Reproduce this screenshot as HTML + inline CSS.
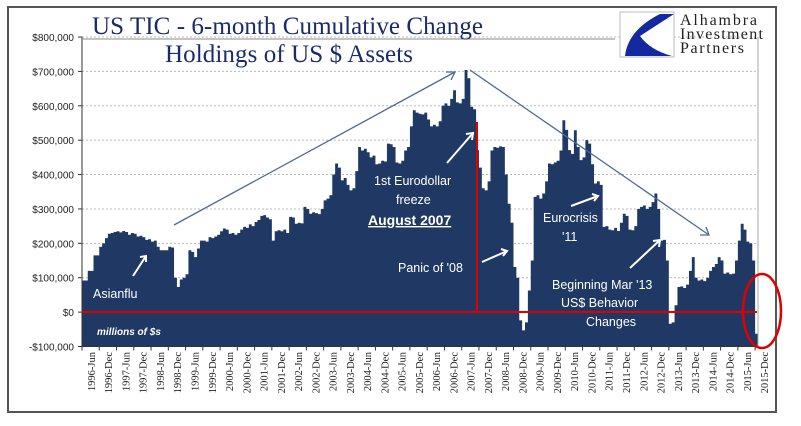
<!DOCTYPE html>
<html><head><meta charset="utf-8"><style>
body{margin:0;background:#fff;}
svg{display:block;}
</style></head><body>
<svg id="chart" width="801" height="426" viewBox="0 0 801 426" xmlns="http://www.w3.org/2000/svg">
<rect x="8" y="7" width="768" height="405" fill="#fff" stroke="#555" stroke-width="2"/>
<g id="grid"></g>
<g id="bars"></g>
<g id="yaxis"></g>
<g id="xaxis"></g>
<line x1="82" y1="39" x2="615" y2="39" stroke="#888" stroke-width="1"/>
<text x="92" y="34" font-family="Liberation Serif, serif" font-size="25" fill="#1a2a6c" textLength="391">US TIC - 6-month Cumulative Change</text>
<text x="165" y="62" font-family="Liberation Serif, serif" font-size="25" fill="#1a2a6c" textLength="248">Holdings of US $ Assets</text>
<g>
<rect x="620" y="12" width="54" height="45" fill="#fff" stroke="#bbb"/>
<path d="M660 14 L674 14 L640 36 Q650 50 672 56 L625 56 Q628 30 660 14Z" fill="#1428a0"/>
<text x="680" y="25" font-family="Liberation Serif, serif" font-size="16" fill="#222" textLength="77">Alhambra</text>
<text x="680" y="39" font-family="Liberation Serif, serif" font-size="16" fill="#222" textLength="83">Investment</text>
<text x="680" y="53" font-family="Liberation Serif, serif" font-size="16" fill="#222" textLength="64">Partners</text>
</g>
<g id="overlay"></g>
</svg>
<script>
const values = [92,92,120,120,165,165,190,200,215,228,230,233,235,232,236,233,225,230,228,220,222,218,210,212,205,208,190,180,180,180,190,188,100,73,95,100,110,180,175,160,185,208,208,205,218,215,220,225,235,243,240,228,230,225,230,240,248,245,255,250,262,268,280,282,275,270,208,235,238,235,240,230,277,275,257,260,258,306,300,286,290,288,285,300,325,330,340,400,432,420,383,390,370,354,360,410,480,470,475,465,450,455,430,432,440,438,490,488,480,435,432,440,470,480,540,587,580,577,575,580,560,540,545,540,555,600,607,600,620,645,610,607,620,704,680,597,590,471,420,360,354,380,470,480,478,482,480,400,315,260,131,100,-24,-53,-30,63,150,335,340,330,345,380,432,430,435,440,470,558,530,471,460,529,480,442,450,500,490,430,374,380,370,248,250,240,238,245,236,260,286,280,240,238,250,300,306,310,300,306,320,345,300,208,210,150,-34,-30,20,73,75,70,80,120,160,100,92,95,90,100,120,131,140,160,150,112,115,110,112,150,208,257,240,205,200,150,-63];
const yTicks = [800,700,600,500,400,300,200,100,0,-100];
const xYears = [1996,1997,1998,1999,2000,2001,2002,2003,2004,2005,2006,2007,2008,2009,2010,2011,2012,2013,2014,2015];
const NS='http://www.w3.org/2000/svg';
const X0=82,X1=758,YTOP=37,YMIN=-100,YMAX=800,YB=346.5;
const y=v=>YB-(v-YMIN)/(YMAX-YMIN)*(YB-YTOP);
const bw=(X1-X0)/values.length;
const x=i=>X0+i*bw;
function mk(tag,attrs,parent){const e=document.createElementNS(NS,tag);for(const k in attrs)e.setAttribute(k,attrs[k]);parent.appendChild(e);return e;}
const grid=document.getElementById('grid'),bars=document.getElementById('bars'),ya=document.getElementById('yaxis'),xa=document.getElementById('xaxis');
yTicks.forEach(t=>{
  if(t>YMIN){const g=mk('line',{x1:X0,x2:X1,y1:y(t),y2:y(t),stroke:'#bbb','stroke-dasharray':'2,2'},grid);
  
  }
  const s=(t<0?'-':'')+'$'+Math.abs(t*1000).toLocaleString('en-US');
  const tx=mk('text',{x:74,y:y(t)+4,'text-anchor':'end','font-family':'Liberation Sans, sans-serif','font-size':'10',fill:'#222'},ya);
  tx.textContent=s;
  
  
  mk('line',{x1:X0-4,x2:X0,y1:y(t),y2:y(t),stroke:'#333'},ya);
});
let d='M'+X0+' '+YB;
values.forEach((v,i)=>{d+=' L'+x(i).toFixed(2)+' '+y(v).toFixed(2)+' L'+x(i+1).toFixed(2)+' '+y(v).toFixed(2);});
d+=' L'+X1+' '+YB+' Z';
const area=mk('path',{d:d,fill:'#1f3864'},bars);


mk('line',{x1:X0,x2:X0,y1:YTOP,y2:YB,stroke:'#333'},ya);
mk('line',{x1:X1,x2:X1,y1:YTOP,y2:YB,stroke:'#aaa'},ya);
mk('line',{x1:X0,x2:X1,y1:YB,y2:YB,stroke:'#333'},xa);
const labels=[];xYears.forEach(yr=>{labels.push(yr+'-Jun');labels.push(yr+'-Dec');});
labels.forEach((l,k)=>{
  const tx0=x(k*6);
  mk('line',{x1:tx0,x2:tx0,y1:YB,y2:YB+4,stroke:'#333'},xa);
  const cx=tx0+bw*4.5, cy=352;
  const t=mk('text',{x:cx,y:cy,transform:'rotate(-90 '+cx+' '+cy+')','text-anchor':'end','font-family':'Liberation Serif, serif','font-size':'10.5',fill:'#222'},xa);
  t.textContent=l;
  
  
});
</script>
<script>
(function(){
const ov=document.getElementById('overlay');
ov.innerHTML=`
<line x1="82" y1="312" x2="757" y2="312" stroke="#e00000" stroke-width="2"/>
<line x1="477" y1="122" x2="477" y2="312" stroke="#e00000" stroke-width="2"/>
<ellipse cx="762" cy="311" rx="19" ry="37" fill="none" stroke="#e00000" stroke-width="2.5"/>
<g stroke="#4a6a96" stroke-width="1.3" fill="none">
<line x1="174" y1="225" x2="455" y2="72"/><polyline points="446,72 455,72 451,80"/>
<line x1="470" y1="70" x2="709" y2="235"/><polyline points="700,235 709,235 706,227"/>
</g>
<g stroke="#fff" stroke-width="2" fill="none">
<line x1="133" y1="276" x2="146" y2="256"/><polyline points="140,257 146,256 146,262"/>
<line x1="447" y1="163" x2="473" y2="133"/><polyline points="466,134 473,133 472,140"/>
<line x1="482" y1="262" x2="507" y2="251"/><polyline points="501,249 507,251 503,256"/>
<line x1="571" y1="206" x2="598" y2="196"/><polyline points="592,194 598,196 594,201"/>
<line x1="630" y1="268" x2="660" y2="240"/><polyline points="653,241 660,240 659,247"/>
</g>
<g font-family="Liberation Sans, sans-serif" fill="#fff" font-size="12.5">
<text x="93" y="298">Asianflu</text>
<text x="374" y="185">1st Eurodollar</text>
<text x="396" y="204">freeze</text>
<text x="368" y="225" font-weight="bold" font-size="14" text-decoration="underline">August 2007</text>
<text x="398" y="272">Panic of '08</text>
<text x="543" y="222">Eurocrisis</text>
<text x="562" y="241">'11</text>
<text x="552" y="289">Beginning Mar '13</text>
<text x="561" y="307">US$ Behavior</text>
<text x="586" y="326">Changes</text>
<text x="97" y="335" font-style="italic" font-size="10" font-weight="bold">millions of $s</text>
</g>`;
})();
</script>
</body></html>
